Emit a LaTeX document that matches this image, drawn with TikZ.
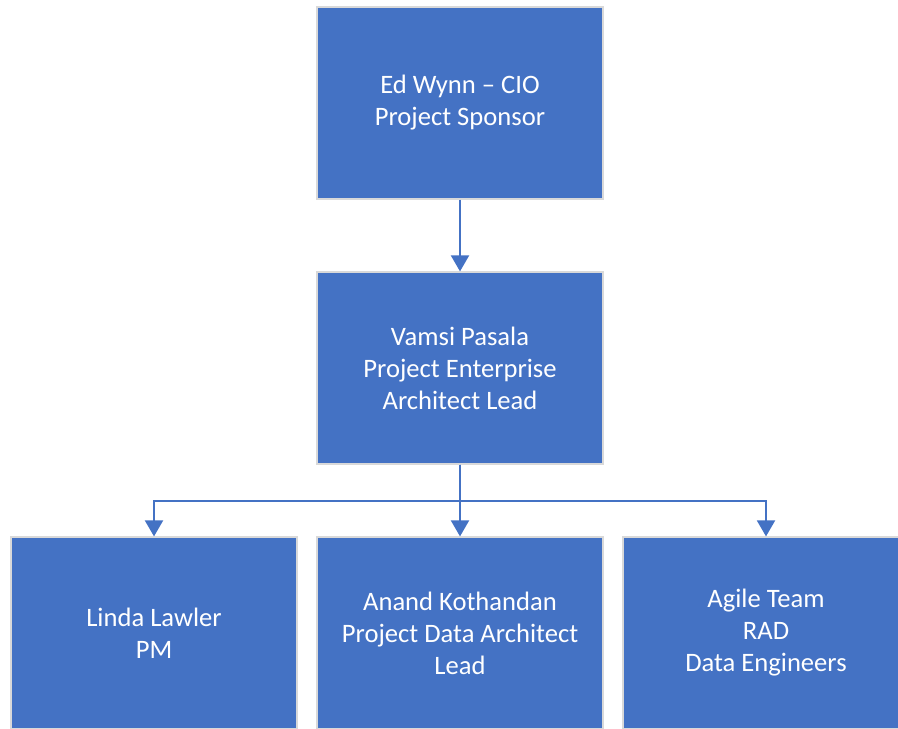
\documentclass[tikz,border=0pt]{standalone}
\usepackage{fontspec}
\setmainfont{Carlito}
\usepackage{tikz}
\usetikzlibrary{arrows.meta}
\definecolor{boxblue}{HTML}{4472C4}

\begin{document}
\begin{tikzpicture}[
  box/.style={rectangle,fill=boxblue,draw=gray!30,line width=0.6pt,
    minimum width=143pt,minimum height=96pt,inner sep=0pt,
    text=white,align=center,font=\fontsize{13.3pt}{16pt}\selectfont},
  level distance=132.5pt,
  level 2/.style={sibling distance=153pt},
  edge from parent/.style={draw=boxblue,line width=1pt,
    -{Triangle[width=9pt,length=8pt]}},
  edge from parent path={(\tikzparentnode.south) -- ++(0,-18pt) -| (\tikzchildnode.north)}]
\useasboundingbox (0pt,0pt) rectangle (449pt,-364pt);
\clip (0pt,0pt) rectangle (449pt,-364pt);
\node [box] (sponsor) at (230pt,-51.5pt) {Ed Wynn -- CIO\\Project Sponsor}
  child {node [box] (architect) {Vamsi Pasala\\Project Enterprise\\Architect Lead}
    child {node [box] (pm) {Linda Lawler\\PM}
    }
    child {node [box] (data) {Anand Kothandan\\Project Data Architect\\Lead}
    }
    child {node [box] (agile) {Agile Team\\RAD\\Data Engineers}
    }
  };
\end{tikzpicture}
\end{document}
